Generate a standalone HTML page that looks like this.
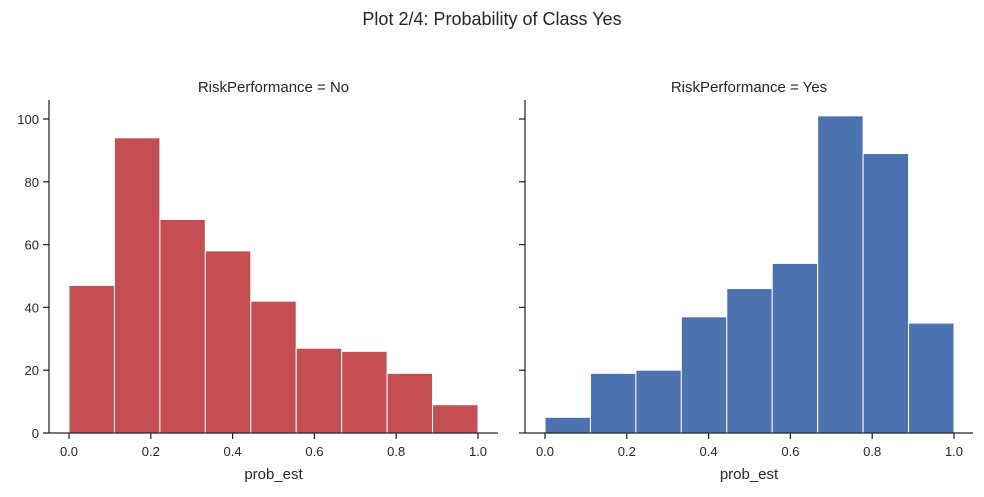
<!DOCTYPE html>
<html><head><meta charset="utf-8"><style>
body{margin:0;background:#fff;font-family:"Liberation Sans",sans-serif;}
svg text{font-family:"Liberation Sans",sans-serif;fill:#262626;}
</style></head><body>
<svg width="984" height="492">
<text x="492" y="25" font-size="18" text-anchor="middle">Plot 2/4: Probability of Class Yes</text>
<g id="g"></g>
</svg>
<script>
const bins = 9;
const leftValues = [47,94,68,58,42,27,26,19,9];
const rightValues = [5,19,20,37,46,54,101,89,35];
const xTicks = [0,0.2,0.4,0.6,0.8,1.0];
const yTicks = [0,20,40,60,80,100];
const panels = [
 {title:"RiskPerformance = No", vals:leftValues, color:"#c44e52", ax:49, x0:69, x1:478, right:498, labels:true, name:"no"},
 {title:"RiskPerformance = Yes", vals:rightValues, color:"#4c72b0", ax:525, x0:545, x1:954, right:973, labels:false, name:"yes"}
];
const NS="http://www.w3.org/2000/svg";
const g=document.getElementById('g');
function mk(t,a,txt){const e=document.createElementNS(NS,t);for(const k in a)e.setAttribute(k,a[k]);if(txt!==undefined)e.textContent=txt;g.appendChild(e);return e;}
const yB=433, yT=100, ypx=3.14;
function Y(v){return yB-v*ypx;}
panels.forEach(p=>{
 const X=v=>p.x0+v*(p.x1-p.x0);
 const t=mk('text',{x:(p.ax+p.right)/2,y:92,'font-size':15,'text-anchor':'middle'},p.title);
 
 
 p.vals.forEach((v,i)=>{
  const r=mk('rect',{x:X(i/bins),y:Y(v),width:X((i+1)/bins)-X(i/bins),height:yB-Y(v),fill:p.color,stroke:'#fff','stroke-width':1});
  
  
 });
 const ya=mk('line',{x1:p.ax,y1:yT,x2:p.ax,y2:yB,stroke:'#262626','stroke-width':1.25});
 
 
 const xa=mk('line',{x1:p.ax,y1:yB,x2:p.right,y2:yB,stroke:'#262626','stroke-width':1.25});
 
 
 xTicks.forEach(v=>{
  mk('line',{x1:X(v),y1:yB,x2:X(v),y2:yB+6,stroke:'#262626','stroke-width':1.25});
  const l=mk('text',{x:X(v),y:yB+23,'font-size':13,'text-anchor':'middle'},v.toFixed(1));
  
  
 });
 yTicks.forEach(v=>{
  mk('line',{x1:p.ax-6,y1:Y(v),x2:p.ax,y2:Y(v),stroke:'#262626','stroke-width':1.25});
  if(p.labels){const l=mk('text',{x:p.ax-10,y:Y(v)+5,'font-size':13,'text-anchor':'end'},v);
   
   }
 });
 const xl=mk('text',{x:(p.ax+p.right)/2,y:479,'font-size':15,'text-anchor':'middle'},'prob_est');
 
 
});
</script>
</body></html>
